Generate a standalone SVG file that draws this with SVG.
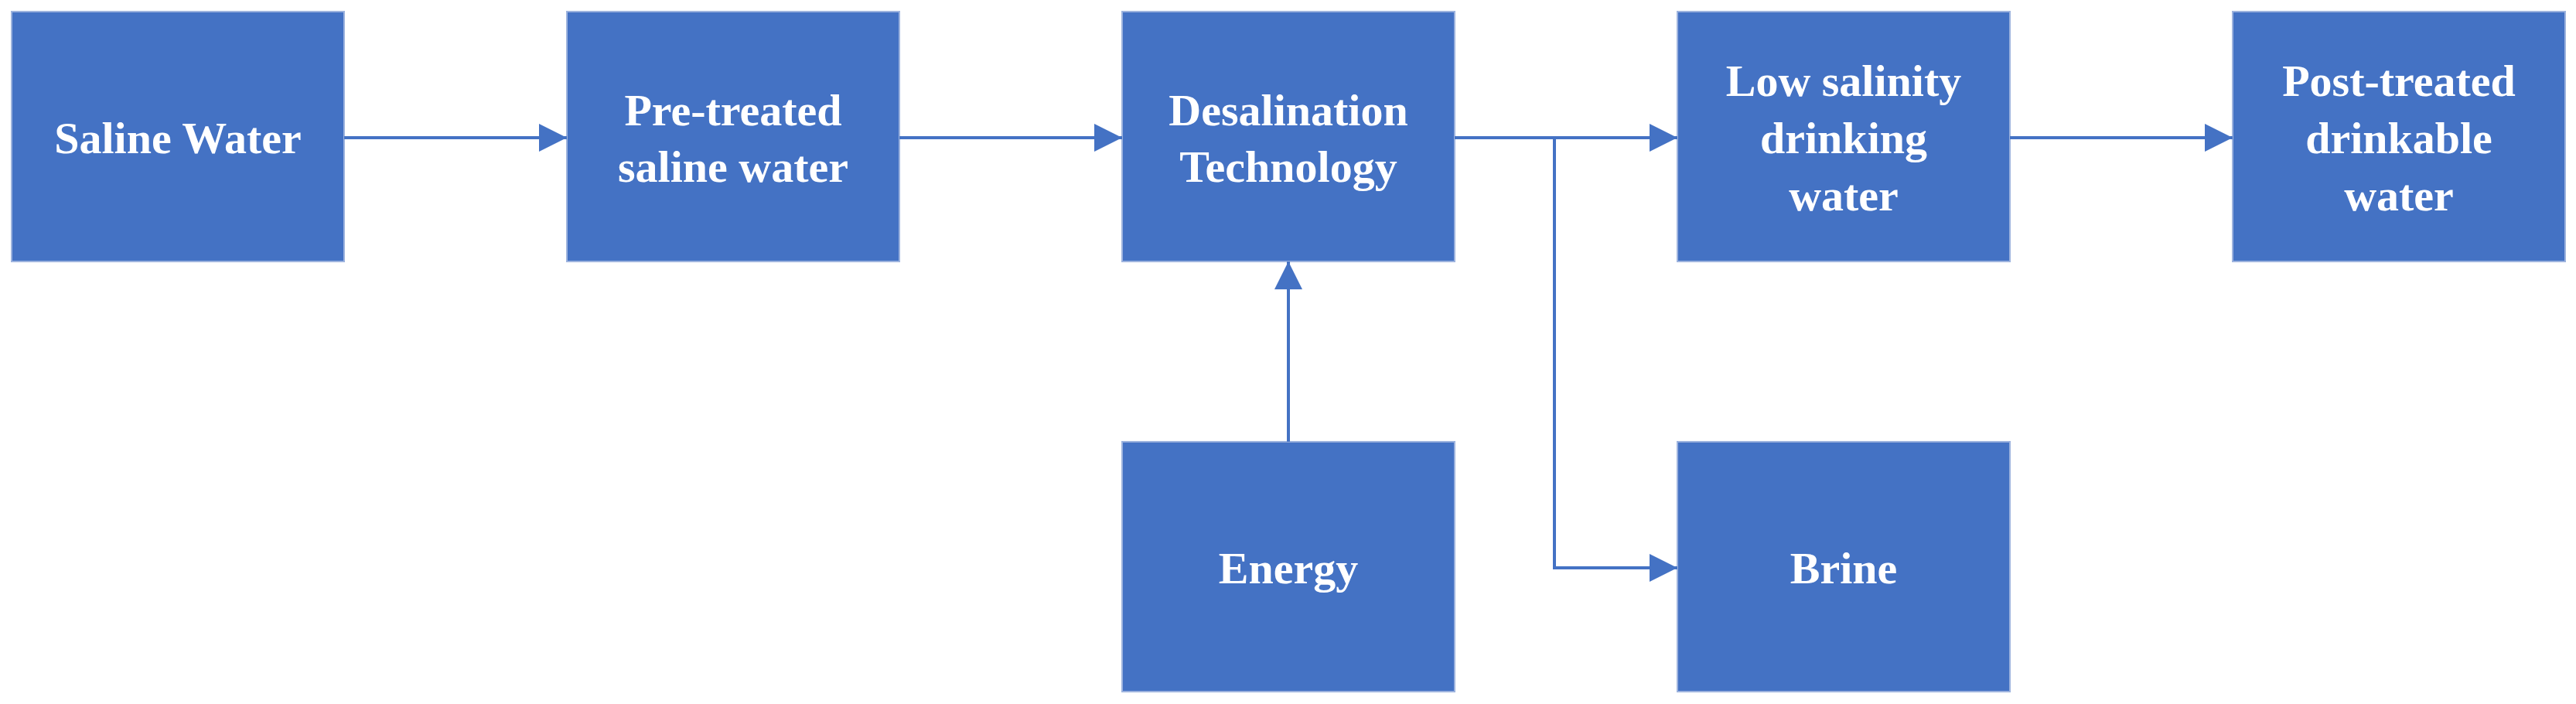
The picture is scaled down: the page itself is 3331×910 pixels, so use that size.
<svg xmlns="http://www.w3.org/2000/svg" width="3331" height="910" viewBox="0 0 3331 910">
<style>
.box{fill:#4472C4;stroke:#9DB3DE;stroke-width:2}
.t{font-family:"Liberation Serif",serif;font-weight:bold;font-size:58px;fill:#fff;text-anchor:middle}
.c{stroke:#4472C4;stroke-width:4;fill:none}
</style>
<defs><marker id="a" markerUnits="userSpaceOnUse" markerWidth="36" markerHeight="36" refX="36" refY="18" orient="auto"><path d="M0,0 L36,18 L0,36 Z" fill="#4472C4"/></marker></defs>
<rect width="3331" height="910" fill="#fff"/>
<g id="n1"><rect class="box" x="15" y="15" width="430" height="323"/><text class="t" x="230" y="198">Saline Water</text></g>
<g id="n2"><rect class="box" x="733" y="15" width="430" height="323"/><text class="t" x="948" y="162">Pre-treated</text><text class="t" x="948" y="235">saline water</text></g>
<g id="n3"><rect class="box" x="1451" y="15" width="430" height="323"/><text class="t" x="1666" y="162">Desalination</text><text class="t" x="1666" y="235">Technology</text></g>
<g id="n4"><rect class="box" x="2169" y="15" width="430" height="323"/><text class="t" x="2384" y="124">Low salinity</text><text class="t" x="2384" y="198">drinking</text><text class="t" x="2384" y="272">water</text></g>
<g id="n5"><rect class="box" x="2887" y="15" width="430" height="323"/><text class="t" x="3102" y="124">Post-treated</text><text class="t" x="3102" y="198">drinkable</text><text class="t" x="3102" y="272">water</text></g>
<g id="n6"><rect class="box" x="1451" y="571" width="430" height="323"/><text class="t" x="1666" y="754">Energy</text></g>
<g id="n7"><rect class="box" x="2169" y="571" width="430" height="323"/><text class="t" x="2384" y="754">Brine</text></g>
<g id="connectors">
<path class="c" d="M445,178 H733" marker-end="url(#a)"/>
<path class="c" d="M1163,178 H1451" marker-end="url(#a)"/>
<path class="c" d="M1881,178 H2169" marker-end="url(#a)"/>
<path class="c" d="M2599,178 H2887" marker-end="url(#a)"/>
<path class="c" d="M2010,178 V734 H2169" marker-end="url(#a)"/>
<path class="c" d="M1666,571 V338" marker-end="url(#a)"/>
</g>
</svg>
